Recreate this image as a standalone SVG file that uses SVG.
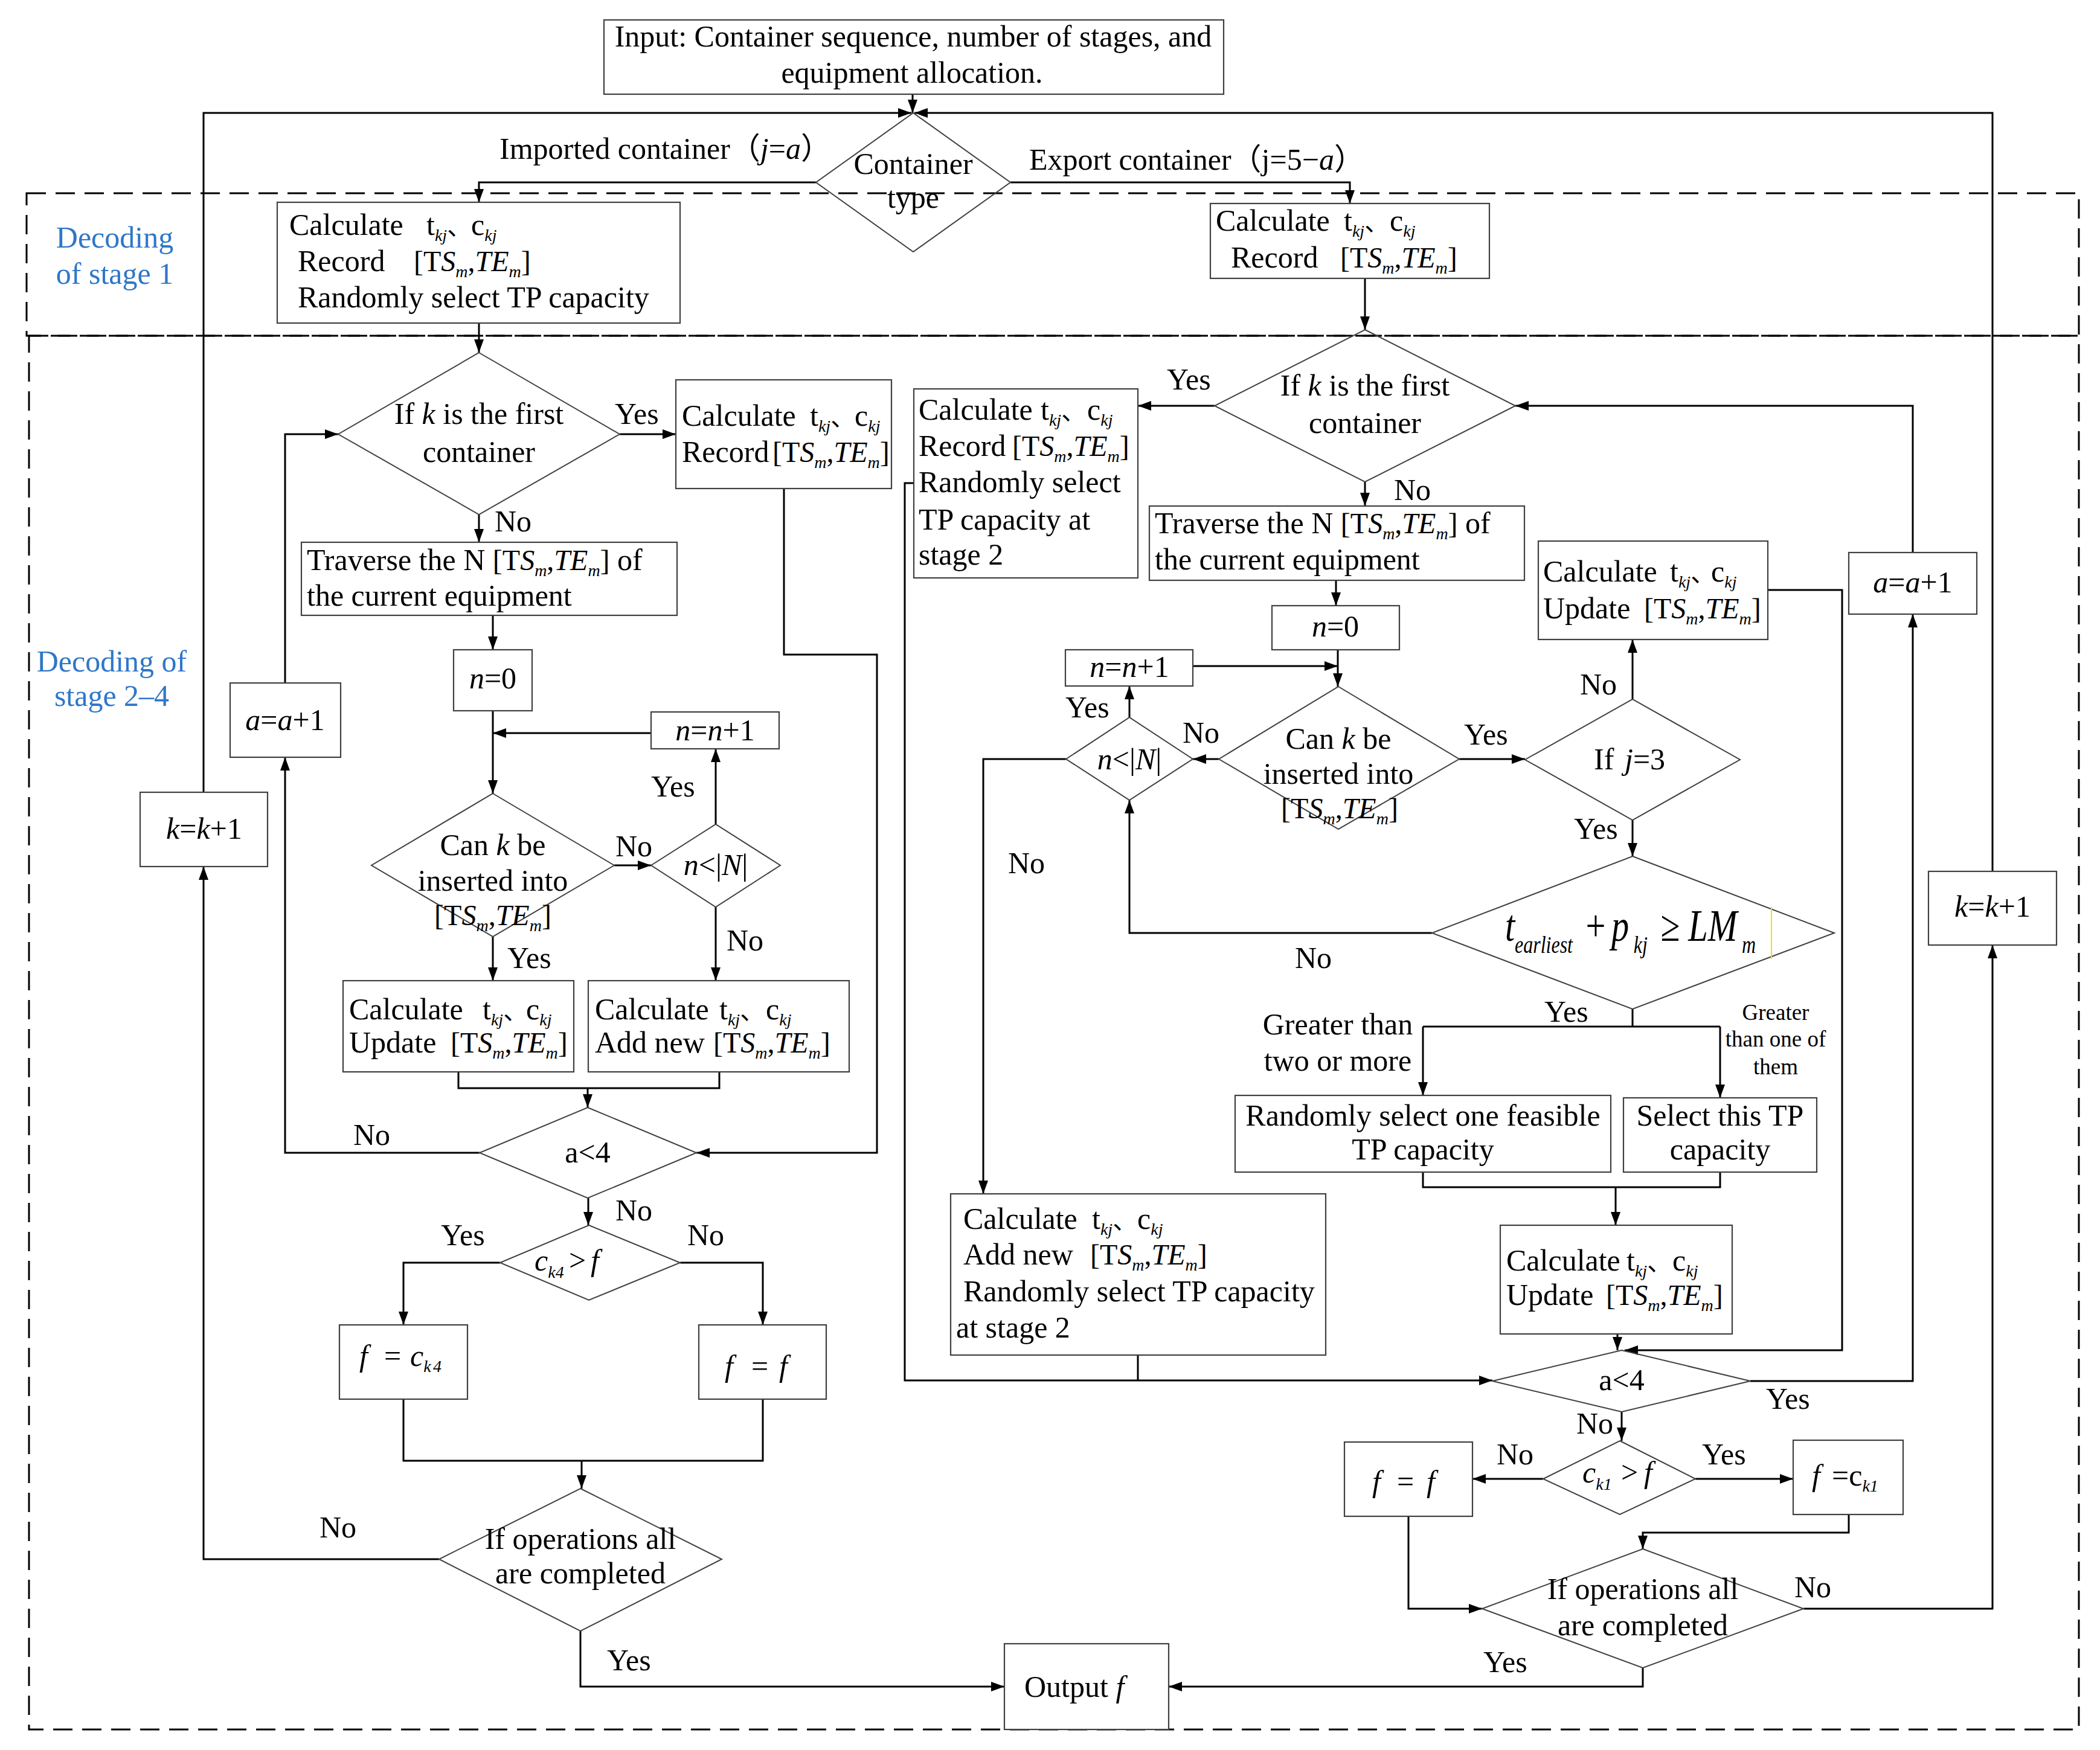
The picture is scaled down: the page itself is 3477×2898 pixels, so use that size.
<svg xmlns="http://www.w3.org/2000/svg" width="3477" height="2898" viewBox="0 0 3477 2898">
<defs>
<style>
text{font-family:'Liberation Serif','Noto Sans CJK SC',serif;font-size:50px;fill:#000}
.m{text-anchor:middle}
.it{font-style:italic}
.up{font-style:normal}
.sub{font-size:28px;font-style:italic}
.cj{font-family:'Noto Sans CJK SC',sans-serif;font-size:40px}
.blue{fill:#2f77c8}
.sm{font-size:37px}
.box{fill:#fff;stroke:#404040;stroke-width:2.2}
.dia{fill:none;stroke:#404040;stroke-width:2}
.ln{fill:none;stroke:#000;stroke-width:3}
.ar{marker-end:url(#ah)}
.dash{fill:none;stroke:#000;stroke-width:3;stroke-dasharray:32 16}
</style>
<marker id="ah" markerUnits="userSpaceOnUse" markerWidth="24" markerHeight="18" refX="22" refY="9" orient="auto"><path d="M0,1 L22,9 L0,17 z" fill="#000"/></marker>
</defs>
<rect width="3477" height="2898" fill="#fff"/>

<g id="regions">
<rect class="dash" x="44" y="320" width="3398" height="236"/>
<rect class="dash" x="48" y="556" width="3394" height="2308"/>
<text class="blue m" x="190" y="410">Decoding</text>
<text class="blue m" x="190" y="470">of stage 1</text>
<text class="blue m" x="185" y="1112">Decoding of</text>
<text class="blue m" x="185" y="1169">stage 2–4</text>
</g>

<g id="connectors">
<path class="ln ar" d="M1511,156 V187"/>
<path class="ln ar" d="M337,1312 V187 H1509"/>
<path class="ln ar" d="M3299,1443 V187 H1514"/>
<path class="ln ar" d="M1351,302 H793 V335"/>
<path class="ln ar" d="M1673,302 H2235 V337"/>
<path class="ln ar" d="M793,535 V584"/>
<path class="ln ar" d="M2260,461 V546"/>
<path class="ln ar" d="M1026,719 H1119"/>
<path class="ln ar" d="M793,852 V898"/>
<path class="ln ar" d="M816,1019 V1076"/>
<path class="ln ar" d="M816,1177 V1314"/>
<path class="ln ar" d="M1078,1214 H816"/>
<path class="ln ar" d="M1017,1433 H1078"/>
<path class="ln ar" d="M1185,1365 V1240"/>
<path class="ln ar" d="M1185,1502 V1624"/>
<path class="ln ar" d="M816,1551 V1624"/>
<path class="ln" d="M759,1775 V1802 H1191 V1775"/>
<path class="ln ar" d="M973,1802 V1834"/>
<path class="ln ar" d="M1298,809 V1084 H1452 V1909 H1153"/>
<path class="ln ar" d="M794,1909 H472 V1254"/>
<path class="ln ar" d="M472,1131 V719 H560"/>
<path class="ln ar" d="M974,1984 V2029"/>
<path class="ln ar" d="M828,2091 H668 V2194"/>
<path class="ln ar" d="M1126,2091 H1263 V2194"/>
<path class="ln" d="M668,2317 V2419 H1263 V2317"/>
<path class="ln ar" d="M963,2419 V2465"/>
<path class="ln ar" d="M727,2582 H337 V1435"/>
<path class="ln ar" d="M961,2701 V2793 H1663"/>
<path class="ln ar" d="M2720,2762 V2793 H1935"/>
<path class="ln ar" d="M2011,672 H1884"/>
<path class="ln ar" d="M2260,798 V838"/>
<path class="ln ar" d="M2212,961 V1003"/>
<path class="ln ar" d="M2215,1076 V1137"/>
<path class="ln ar" d="M1975,1103 H2215"/>
<path class="ln ar" d="M2018,1257 H1975"/>
<path class="ln ar" d="M1870,1188 V1136"/>
<path class="ln ar" d="M1765,1257 H1628 V1977"/>
<path class="ln ar" d="M2416,1257 H2525"/>
<path class="ln ar" d="M2703,1158 V1059"/>
<path class="ln ar" d="M2703,1358 V1418"/>
<path class="ln ar" d="M2371,1545 H1870 V1325"/>
<path class="ln" d="M2703,1671 V1700 M2356,1700 H2848"/>
<path class="ln ar" d="M2356,1700 V1814"/>
<path class="ln ar" d="M2848,1700 V1818"/>
<path class="ln" d="M2356,1941 V1966 H2848 V1941"/>
<path class="ln ar" d="M2675,1966 V2029"/>
<path class="ln ar" d="M2678,2209 V2236"/>
<path class="ln ar" d="M2927,977 H3050 V2236 H2690"/>
<path class="ln ar" d="M1513,800 H1498 V2286 H2471"/>
<path class="ln" d="M1884,2244 V2286"/>
<path class="ln ar" d="M2898,2287 H3167 V1017"/>
<path class="ln ar" d="M3167,915 V672 H2509"/>
<path class="ln ar" d="M2685,2338 V2386"/>
<path class="ln ar" d="M2555,2449 H2438"/>
<path class="ln ar" d="M2807,2449 H2969"/>
<path class="ln ar" d="M3061,2508 V2538 H2720 V2565"/>
<path class="ln ar" d="M2332,2511 V2664 H2454"/>
<path class="ln ar" d="M2986,2664 H3299 V1565"/>
</g>

<g id="edge-labels">
<text x="827" y="263">Imported container<tspan class="cj" style="font-size:50px">（</tspan><tspan class="it">j</tspan>=<tspan class="it">a</tspan><tspan class="cj" style="font-size:50px">）</tspan></text>
<text x="1704" y="281">Export container<tspan class="cj" style="font-size:50px">（</tspan>j=5−<tspan class="it">a</tspan><tspan class="cj" style="font-size:50px">）</tspan></text>
<text x="1018" y="702">Yes</text>
<text x="819" y="880">No</text>
<text x="1019" y="1418">No</text>
<text x="1078" y="1319">Yes</text>
<text x="1203" y="1574">No</text>
<text x="840" y="1603">Yes</text>
<text x="585" y="1896">No</text>
<text x="1019" y="2021">No</text>
<text x="730" y="2062">Yes</text>
<text x="1138" y="2062">No</text>
<text x="529" y="2546">No</text>
<text x="1005" y="2766">Yes</text>
<text x="1932" y="645">Yes</text>
<text x="2308" y="828">No</text>
<text x="1764" y="1188">Yes</text>
<text x="1958" y="1230">No</text>
<text x="2424" y="1233">Yes</text>
<text x="2616" y="1150">No</text>
<text x="2606" y="1389">Yes</text>
<text x="1669" y="1446">No</text>
<text x="2144" y="1603">No</text>
<text x="2557" y="1692">Yes</text>
<text class="m" x="2215" y="1713">Greater than</text>
<text class="m" x="2215" y="1773">two or more</text>
<text class="m sm" x="2940" y="1689">Greater</text>
<text class="m sm" x="2940" y="1733">than one of</text>
<text class="m sm" x="2940" y="1779">them</text>
<text x="2924" y="2333">Yes</text>
<text x="2610" y="2374">No</text>
<text x="2478" y="2425">No</text>
<text x="2818" y="2425">Yes</text>
<text x="2971" y="2645">No</text>
<text x="2456" y="2769">Yes</text>
</g>

<g id="n-input">
<rect class="box" x="1000" y="33" width="1026" height="123"/>
<text class="m" x="1512" y="77">Input: Container sequence, number of stages, and</text>
<text class="m" x="1510" y="137">equipment allocation.</text>
</g>

<g id="n-type">
<polygon class="dia" points="1512,187 1673,302 1512,417 1351,302"/>
<text class="m" x="1512" y="288">Container</text>
<text class="m" x="1512" y="344">type</text>
</g>

<g id="n-s1L">
<rect class="box" x="459" y="335" width="667" height="200"/>
<text x="479" y="389">Calculate<tspan x="706">t</tspan><tspan class="sub" dy="10">kj</tspan><tspan class="cj" dy="-10">、</tspan><tspan x="780">c</tspan><tspan class="sub" dy="10">kj</tspan></text>
<text x="493" y="449">Record<tspan x="685" font-size="48">[T<tspan class="it">S</tspan><tspan class="sub" dy="10">m</tspan><tspan dy="-10">,</tspan><tspan class="it">TE</tspan><tspan class="sub" dy="10">m</tspan><tspan dy="-10">]</tspan></tspan></text>
<text x="493" y="509">Randomly select TP capacity</text>
</g>

<g id="n-s1R">
<rect class="box" x="2004" y="337" width="462" height="124"/>
<text x="2013" y="382">Calculate<tspan x="2225">t</tspan><tspan class="sub" dy="10">kj</tspan><tspan class="cj" dy="-10">、</tspan><tspan x="2301">c</tspan><tspan class="sub" dy="10">kj</tspan></text>
<text x="2038" y="443">Record<tspan x="2219" font-size="48">[T<tspan class="it">S</tspan><tspan class="sub" dy="10">m</tspan><tspan dy="-10">,</tspan><tspan class="it">TE</tspan><tspan class="sub" dy="10">m</tspan><tspan dy="-10">]</tspan></tspan></text>
</g>

<g id="n-first-L">
<polygon class="dia" points="793,584 1026,719 793,852 560,719"/>
<text class="m" x="793" y="702">If <tspan class="it">k</tspan> is the first</text>
<text class="m" x="793" y="765">container</text>
</g>

<g id="n-rec-L">
<rect class="box" x="1119" y="629" width="357" height="180"/>
<text x="1129" y="705">Calculate<tspan x="1341">t</tspan><tspan class="sub" dy="10">kj</tspan><tspan class="cj" dy="-10">、</tspan><tspan x="1415">c</tspan><tspan class="sub" dy="10">kj</tspan></text>
<text x="1129" y="765">Record<tspan x="1279" font-size="48">[T<tspan class="it">S</tspan><tspan class="sub" dy="10">m</tspan><tspan dy="-10">,</tspan><tspan class="it">TE</tspan><tspan class="sub" dy="10">m</tspan><tspan dy="-10">]</tspan></tspan></text>
</g>

<g id="n-trav-L">
<rect class="box" x="499" y="898" width="622" height="121"/>
<text x="508" y="944">Traverse the N <tspan font-size="48">[T<tspan class="it">S</tspan><tspan class="sub" dy="10">m</tspan><tspan dy="-10">,</tspan><tspan class="it">TE</tspan><tspan class="sub" dy="10">m</tspan><tspan dy="-10">]</tspan></tspan> of</text>
<text x="508" y="1003">the current equipment</text>
</g>

<g id="n-n0-L">
<rect class="box" x="751" y="1076" width="130" height="101"/>
<text class="m" x="816" y="1140"><tspan class="it">n</tspan>=0</text>
</g>

<g id="n-nn1-L">
<rect class="box" x="1078" y="1179" width="212" height="61"/>
<text class="m" x="1184" y="1226"><tspan class="it">n</tspan>=<tspan class="it">n</tspan>+1</text>
</g>

<g id="n-can-L">
<polygon class="dia" points="816,1314 1017,1433 816,1551 615,1433"/>
<text class="m" x="816" y="1416">Can <tspan class="it">k</tspan> be</text>
<text class="m" x="816" y="1475">inserted into</text>
<text class="m" x="816" y="1532" style="font-size:48px">[T<tspan class="it">S</tspan><tspan class="sub" dy="10">m</tspan><tspan dy="-10">,</tspan><tspan class="it">TE</tspan><tspan class="sub" dy="10">m</tspan><tspan dy="-10">]</tspan></text>
</g>

<g id="n-nlt-L">
<polygon class="dia" points="1078,1433 1185,1365 1292,1433 1185,1502"/>
<text class="m" x="1185" y="1449"><tspan class="it">n</tspan>&lt;|<tspan class="it">N</tspan>|</text>
</g>

<g id="n-upd-L">
<rect class="box" x="568" y="1624" width="382" height="151"/>
<text x="578" y="1688">Calculate<tspan x="799">t</tspan><tspan class="sub" dy="10">kj</tspan><tspan class="cj" dy="-10">、</tspan><tspan x="871">c</tspan><tspan class="sub" dy="10">kj</tspan></text>
<text x="578" y="1743">Update<tspan x="746" font-size="48">[T<tspan class="it">S</tspan><tspan class="sub" dy="10">m</tspan><tspan dy="-10">,</tspan><tspan class="it">TE</tspan><tspan class="sub" dy="10">m</tspan><tspan dy="-10">]</tspan></tspan></text>
</g>

<g id="n-add-L">
<rect class="box" x="974" y="1624" width="432" height="151"/>
<text x="985" y="1688">Calculate<tspan x="1191">t</tspan><tspan class="sub" dy="10">kj</tspan><tspan class="cj" dy="-10">、</tspan><tspan x="1268">c</tspan><tspan class="sub" dy="10">kj</tspan></text>
<text x="985" y="1743">Add new<tspan x="1181" font-size="48">[T<tspan class="it">S</tspan><tspan class="sub" dy="10">m</tspan><tspan dy="-10">,</tspan><tspan class="it">TE</tspan><tspan class="sub" dy="10">m</tspan><tspan dy="-10">]</tspan></tspan></text>
</g>

<g id="n-a4-L">
<polygon class="dia" points="973,1834 1153,1909 973,1984 794,1909"/>
<text class="m" x="973" y="1925">a&lt;4</text>
</g>

<g id="n-aa1-L">
<rect class="box" x="381" y="1131" width="183" height="123"/>
<text class="m" x="472" y="1209"><tspan class="it">a</tspan>=<tspan class="it">a</tspan>+1</text>
</g>

<g id="n-kk1-L">
<rect class="box" x="232" y="1312" width="211" height="123"/>
<text class="m" x="338" y="1389"><tspan class="it">k</tspan>=<tspan class="it">k</tspan>+1</text>
</g>

<g id="n-ck4">
<polygon class="dia" points="975,2029 1126,2091 975,2153 828,2091"/>
<text x="885" y="2104" class="it">c<tspan class="sub" dy="12">k4</tspan><tspan class="up" x="942" dy="-12">&gt;</tspan><tspan x="978">f</tspan></text>
</g>

<g id="n-fck4">
<rect class="box" x="562" y="2194" width="212" height="123"/>
<text y="2262" class="it"><tspan x="595">f</tspan><tspan class="up" x="636">=</tspan><tspan x="679">c</tspan><tspan class="sub" dy="10">k</tspan><tspan class="sub up" x="717">4</tspan></text>
</g>

<g id="n-ff-L">
<rect class="box" x="1157" y="2194" width="211" height="123"/>
<text y="2279" class="it"><tspan x="1200">f</tspan><tspan class="up" x="1244">=</tspan><tspan x="1290">f</tspan></text>
</g>

<g id="n-ops-L">
<polygon class="dia" points="961,2465 1195,2582 961,2701 727,2582"/>
<text class="m" x="961" y="2565">If operations all</text>
<text class="m" x="961" y="2622">are completed</text>
</g>

<g id="n-out">
<rect class="box" x="1663" y="2722" width="272" height="142"/>
<text x="1696" y="2810">Output <tspan class="it">f</tspan></text>
</g>

<g id="n-first-R">
<polygon class="dia" points="2260,546 2509,672 2260,798 2011,672"/>
<text class="m" x="2260" y="655">If <tspan class="it">k</tspan> is the first</text>
<text class="m" x="2260" y="717">container</text>
</g>

<g id="n-rec-R">
<rect class="box" x="1513" y="644" width="371" height="313"/>
<text x="1521" y="695">Calculate<tspan x="1723">t</tspan><tspan class="sub" dy="10">kj</tspan><tspan class="cj" dy="-10">、</tspan><tspan x="1800">c</tspan><tspan class="sub" dy="10">kj</tspan></text>
<text x="1521" y="755">Record<tspan x="1676" font-size="48">[T<tspan class="it">S</tspan><tspan class="sub" dy="10">m</tspan><tspan dy="-10">,</tspan><tspan class="it">TE</tspan><tspan class="sub" dy="10">m</tspan><tspan dy="-10">]</tspan></tspan></text>
<text x="1521" y="815">Randomly select</text>
<text x="1521" y="877">TP capacity at</text>
<text x="1521" y="935">stage 2</text>
</g>

<g id="n-trav-R">
<rect class="box" x="1903" y="838" width="621" height="123"/>
<text x="1912" y="883">Traverse the N <tspan font-size="48">[T<tspan class="it">S</tspan><tspan class="sub" dy="10">m</tspan><tspan dy="-10">,</tspan><tspan class="it">TE</tspan><tspan class="sub" dy="10">m</tspan><tspan dy="-10">]</tspan></tspan> of</text>
<text x="1912" y="943">the current equipment</text>
</g>

<g id="n-n0-R">
<rect class="box" x="2106" y="1003" width="211" height="73"/>
<text class="m" x="2211" y="1054"><tspan class="it">n</tspan>=0</text>
</g>

<g id="n-nn1-R">
<rect class="box" x="1764" y="1076" width="211" height="60"/>
<text class="m" x="1870" y="1121"><tspan class="it">n</tspan>=<tspan class="it">n</tspan>+1</text>
</g>

<g id="n-can-R">
<polygon class="dia" points="2216,1137 2416,1257 2216,1373 2018,1257"/>
<text class="m" x="2216" y="1240">Can <tspan class="it">k</tspan> be</text>
<text class="m" x="2216" y="1298">inserted into</text>
<text class="m" x="2218" y="1355" style="font-size:48px">[T<tspan class="it">S</tspan><tspan class="sub" dy="10">m</tspan><tspan dy="-10">,</tspan><tspan class="it">TE</tspan><tspan class="sub" dy="10">m</tspan><tspan dy="-10">]</tspan></text>
</g>

<g id="n-nlt-R">
<polygon class="dia" points="1765,1257 1870,1188 1975,1257 1870,1325"/>
<text class="m" x="1870" y="1274"><tspan class="it">n</tspan>&lt;|<tspan class="it">N</tspan>|</text>
</g>

<g id="n-j3">
<polygon class="dia" points="2525,1258 2703,1158 2881,1258 2703,1358"/>
<text x="2639" y="1274">If<tspan x="2690" class="it">j</tspan>=3</text>
</g>

<g id="n-upd-R1">
<rect class="box" x="2547" y="896" width="380" height="163"/>
<text x="2555" y="963">Calculate<tspan x="2765">t</tspan><tspan class="sub" dy="10">kj</tspan><tspan class="cj" dy="-10">、</tspan><tspan x="2833">c</tspan><tspan class="sub" dy="10">kj</tspan></text>
<text x="2555" y="1024">Update<tspan x="2722" font-size="48">[T<tspan class="it">S</tspan><tspan class="sub" dy="10">m</tspan><tspan dy="-10">,</tspan><tspan class="it">TE</tspan><tspan class="sub" dy="10">m</tspan><tspan dy="-10">]</tspan></tspan></text>
</g>

<g id="n-aa1-R">
<rect class="box" x="3061" y="915" width="212" height="102"/>
<text class="m" x="3167" y="981"><tspan class="it">a</tspan>=<tspan class="it">a</tspan>+1</text>
</g>

<g id="n-kk1-R">
<rect class="box" x="3193" y="1443" width="212" height="122"/>
<text class="m" x="3299" y="1518"><tspan class="it">k</tspan>=<tspan class="it">k</tspan>+1</text>
</g>

<g id="n-lm">
<polygon class="dia" points="2703,1418 3037,1545 2703,1671 2371,1545"/>
<line x1="2933" y1="1502" x2="2933" y2="1588" stroke="#f2e200" stroke-width="2"/>
<text y="1558" class="it" style="font-size:73px" transform="matrix(0.8,0,0,1,0,0)"><tspan x="3115">t</tspan><tspan x="3135" dy="20" style="font-size:40px">earliest</tspan><tspan class="up" x="3282" dy="-20">+</tspan><tspan x="3335">p</tspan><tspan x="3381" dy="20" style="font-size:40px">kj</tspan><tspan class="up" x="3437" dy="-20">≥</tspan><tspan x="3494">LM</tspan><tspan x="3605" dy="20" style="font-size:40px">m</tspan></text>
</g>

<g id="n-rand">
<rect class="box" x="2045" y="1814" width="622" height="127"/>
<text class="m" x="2356" y="1864">Randomly select one feasible</text>
<text class="m" x="2356" y="1920">TP capacity</text>
</g>

<g id="n-sel">
<rect class="box" x="2688" y="1818" width="320" height="123"/>
<text class="m" x="2848" y="1864">Select this TP</text>
<text class="m" x="2848" y="1920">capacity</text>
</g>

<g id="n-upd-R2">
<rect class="box" x="2484" y="2029" width="384" height="180"/>
<text x="2494" y="2104">Calculate<tspan x="2693">t</tspan><tspan class="sub" dy="10">kj</tspan><tspan class="cj" dy="-10">、</tspan><tspan x="2769">c</tspan><tspan class="sub" dy="10">kj</tspan></text>
<text x="2494" y="2161">Update<tspan x="2659" font-size="48">[T<tspan class="it">S</tspan><tspan class="sub" dy="10">m</tspan><tspan dy="-10">,</tspan><tspan class="it">TE</tspan><tspan class="sub" dy="10">m</tspan><tspan dy="-10">]</tspan></tspan></text>
</g>

<g id="n-add-R">
<rect class="box" x="1574" y="1977" width="621" height="267"/>
<text x="1595" y="2035">Calculate<tspan x="1808">t</tspan><tspan class="sub" dy="10">kj</tspan><tspan class="cj" dy="-10">、</tspan><tspan x="1883">c</tspan><tspan class="sub" dy="10">kj</tspan></text>
<text x="1595" y="2094">Add new<tspan x="1805" font-size="48">[T<tspan class="it">S</tspan><tspan class="sub" dy="10">m</tspan><tspan dy="-10">,</tspan><tspan class="it">TE</tspan><tspan class="sub" dy="10">m</tspan><tspan dy="-10">]</tspan></tspan></text>
<text x="1595" y="2155">Randomly select TP capacity</text>
<text x="1583" y="2215">at stage 2</text>
</g>

<g id="n-a4-R">
<polygon class="dia" points="2685,2236 2898,2287 2685,2338 2471,2287"/>
<text class="m" x="2685" y="2302">a&lt;4</text>
</g>

<g id="n-ck1">
<polygon class="dia" points="2682,2386 2807,2449 2682,2508 2555,2449"/>
<text x="2620" y="2455" class="it">c<tspan class="sub" dy="12">k1</tspan><tspan class="up" x="2684" dy="-12">&gt;</tspan><tspan x="2722">f</tspan></text>
</g>

<g id="n-ff-R">
<rect class="box" x="2226" y="2388" width="212" height="123"/>
<text y="2470" class="it"><tspan x="2272">f</tspan><tspan class="up" x="2313">=</tspan><tspan x="2362">f</tspan></text>
</g>

<g id="n-fck1">
<rect class="box" x="2969" y="2385" width="182" height="123"/>
<text y="2460"><tspan class="it" x="3000">f</tspan><tspan x="3033">=c</tspan><tspan class="sub up" dy="10">k1</tspan></text>
</g>

<g id="n-ops-R">
<polygon class="dia" points="2720,2565 2986,2664 2720,2762 2454,2664"/>
<text class="m" x="2720" y="2648">If operations all</text>
<text class="m" x="2720" y="2708">are completed</text>
</g>
</svg>
